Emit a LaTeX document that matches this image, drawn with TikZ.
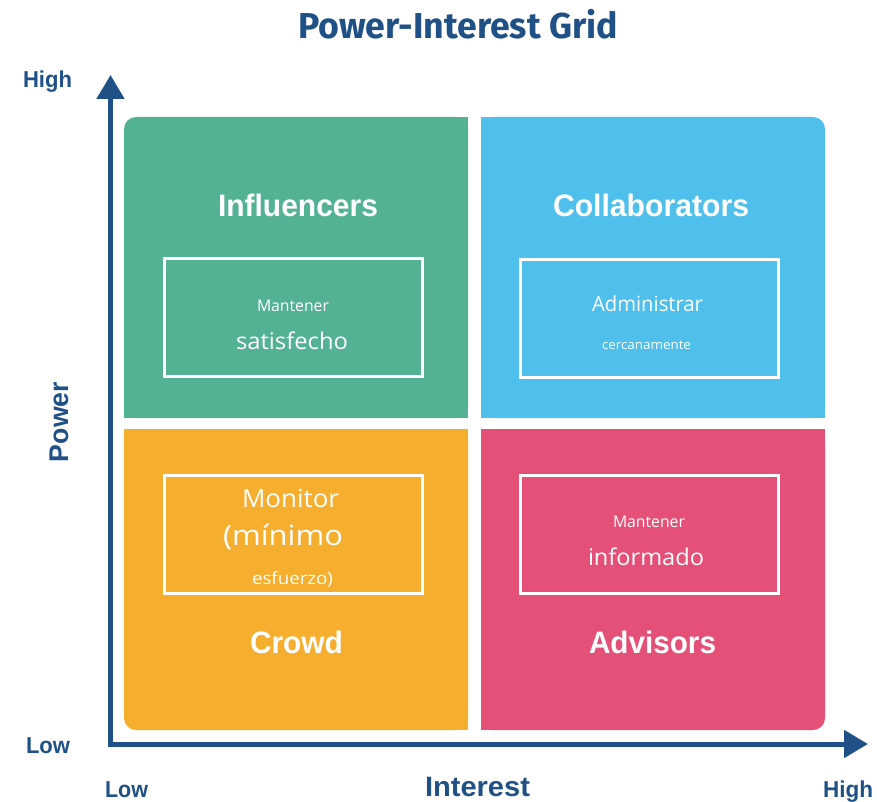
\documentclass[tikz,border=0pt]{standalone}
\usepackage{fontspec}
\usepackage{graphicx}
\setmainfont{Liberation Sans}
\newfontfamily\titlefont{Fira Sans}
\newfontfamily\notefont{Open Sans}
\usetikzlibrary{arrows.meta}

\definecolor{navy}{HTML}{1F5186}
\definecolor{qgreen}{HTML}{54B294}
\definecolor{qblue}{HTML}{4FBFEB}
\definecolor{qorange}{HTML}{F6AE2F}
\definecolor{qpink}{HTML}{E45077}

% set a text to a given width (in pt), keeping its height
\newcommand{\fitto}[2]{\resizebox{#1pt}{\height}{#2}}

\begin{document}
\begin{tikzpicture}[x=1pt, y=-1pt,
    axislab/.style={text=navy, font=\bfseries\fontsize{23}{23}\selectfont, anchor=base, inner sep=0},
    quadlab/.style={text=white, font=\bfseries\fontsize{31}{31}\selectfont, anchor=base, inner sep=0},
    notebox/.style={draw=white, line width=3pt, minimum width=258pt, minimum height=118pt, inner sep=0},
    note/.style={text=white, anchor=base, inner sep=0},
    axis/.style={draw=navy, line width=5pt,
      {Triangle[width=27pt,length=24pt]}-{Triangle[width=27pt,length=24pt]}}
  ]
  \useasboundingbox (0,0) rectangle (877,802);
  \fill[white] (0,0) rectangle (877,802);

  % quadrants: only the outer corner of each is rounded
  \fill[qgreen, rounded corners=12pt] (124,117) rectangle (468,418);
  \fill[qgreen] (136,117) rectangle (468,418);
  \fill[qgreen] (124,129) rectangle (468,418);

  \fill[qblue, rounded corners=12pt] (481,117) rectangle (825,418);
  \fill[qblue] (481,117) rectangle (813,418);
  \fill[qblue] (481,129) rectangle (825,418);

  \fill[qorange, rounded corners=12pt] (124,429) rectangle (468,730);
  \fill[qorange] (136,429) rectangle (468,730);
  \fill[qorange] (124,429) rectangle (468,718);

  \fill[qpink, rounded corners=12pt] (481,429) rectangle (825,730);
  \fill[qpink] (481,429) rectangle (813,730);
  \fill[qpink] (481,429) rectangle (825,718);

  % axes
  \coordinate (ytip) at (110.5,75);
  \coordinate (origin) at (110.5,744);
  \coordinate (xtip) at (868,744);
  \draw[axis] (ytip) -- (origin) -- (xtip);

  % title
  \node[anchor=base, inner sep=0, text=navy] (title) at (458,39)
    {\titlefont\bfseries\fontsize{36}{36}\selectfont\fitto{320}{Power-Interest Grid}};

  % axis labels
  \node[axislab] (phigh) at (47.5,88) {\fitto{49}{High}};
  \node[axislab] (plow) at (48,753) {\fitto{44}{Low}};
  \node[axislab] (ilow) at (126.5,797) {\fitto{43}{Low}};
  \node[axislab] (ihigh) at (848,797) {\fitto{50}{High}};
  \node[axislab, font=\bfseries\fontsize{28}{28}\selectfont] (interest) at (477.5,796) {\fitto{105}{Interest}};
  \node[axislab, font=\bfseries\fontsize{27}{27}\selectfont, rotate=90] (power) at (68,422) {\fitto{80}{Power}};

  % quadrant names
  \node[quadlab] (influencers) at (298,217) {\fitto{160}{Influencers}};
  \node[quadlab] (collaborators) at (651,217) {\fitto{196}{Collaborators}};
  \node[quadlab] (crowd) at (296.5,653) {\fitto{93}{Crowd}};
  \node[quadlab] (advisors) at (652.5,653) {\fitto{127}{Advisors}};

  % strategy boxes
  \node[notebox] (boxinf) at (293.5,317.5) {};
  \node[notebox] (boxcol) at (649.5,318) {};
  \node[notebox] (boxcrw) at (293.5,534) {};
  \node[notebox] (boxadv) at (649.5,534) {};

  % strategy texts
  \node[note, font=\notefont\fontsize{16}{16}\selectfont] (inf1) at (293,311) {\fitto{72}{Mantener}};
  \node[note, font=\notefont\fontsize{23}{23}\selectfont] (inf2) at (292,349) {\fitto{112}{satisfecho}};
  \node[note, font=\notefont\fontsize{21}{21}\selectfont] (col1) at (647.5,311) {\fitto{111}{Administrar}};
  \node[note, font=\notefont\fontsize{13}{13}\selectfont] (col2) at (646.5,349) {\fitto{89}{cercanamente}};
  \node[note, font=\notefont\fontsize{25}{25}\selectfont] (crw1) at (290.5,507) {\fitto{97}{Monitor}};
  \node[note, font=\notefont\fontsize{28}{28}\selectfont] (crw2) at (283,545) {\fitto{120}{(mínimo}};
  \node[note, font=\notefont\fontsize{17}{17}\selectfont] (crw3) at (292.5,584) {\fitto{81}{esfuerzo)}};
  \node[note, font=\notefont\fontsize{16}{16}\selectfont] (adv1) at (649,527) {\fitto{72}{Mantener}};
  \node[note, font=\notefont\fontsize{23}{23}\selectfont] (adv2) at (646,565) {\fitto{116}{informado}};
\end{tikzpicture}
\end{document}
